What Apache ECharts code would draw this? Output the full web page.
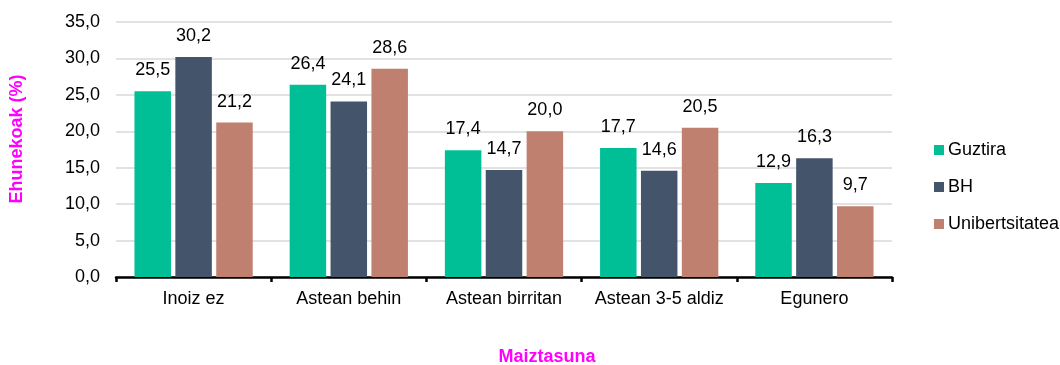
<!DOCTYPE html>
<html>
<head>
<meta charset="utf-8">
<script src="https://cdn.jsdelivr.net/npm/echarts@6/dist/echarts.min.js"></script>
<style>
  html, body { margin: 0; padding: 0; background: #fff; }
  #chart { width: 1060px; height: 365px; }
</style>
</head>
<body>
<div id="chart"></div>
<script>
// Frequency categories and percentages per group
const categories = ['Inoiz ez', 'Astean behin', 'Astean birritan', 'Astean 3-5 aldiz', 'Egunero'];
const guztira = [25.5, 26.4, 17.4, 17.7, 12.9];
const bh = [30.2, 24.1, 14.7, 14.6, 16.3];
const unibertsitatea = [21.2, 28.6, 20.0, 20.5, 9.7];
const seriesNames = ['Guztira', 'BH', 'Unibertsitatea'];
const colors = ['#00BF96', '#44546A', '#C0806F'];

const fmt = v => v.toFixed(1).replace('.', ',');
const font = 'Liberation Sans, Arial, sans-serif';
const fs = 18;

const chart = echarts.init(document.getElementById('chart'));

function barSeries(name, data, color) {
  return {
    name: name,
    type: 'bar',
    data: data,
    barWidth: 36.5,
    barGap: '12%',
    itemStyle: { color: color },
    label: {
      show: true,
      position: 'top',
      distance: 12,
      fontFamily: font,
      fontSize: fs,
      color: '#000',
      formatter: p => fmt(p.value)
    }
  };
}

chart.setOption({
  animation: false,
  color: colors,
  grid: { left: 116, right: 168, top: 22, bottom: 88, containLabel: false },
  legend: {
    orient: 'vertical',
    left: 929,
    top: 136,
    itemWidth: 10,
    itemHeight: 10,
    itemGap: 19,
    icon: 'rect',
    textStyle: { fontFamily: font, fontSize: fs, lineHeight: 18, color: '#000', padding: [0, 0, 0, -1] },
    data: seriesNames
  },
  xAxis: {
    type: 'category',
    data: categories,
    axisLine: { lineStyle: { color: '#000', width: 2.5 } },
    axisTick: { show: true, length: 5, lineStyle: { color: '#000', width: 2.5 } },
    axisLabel: { interval: 0, fontFamily: font, fontSize: fs, color: '#000', margin: 13 }
  },
  yAxis: {
    type: 'value',
    min: 0,
    max: 35,
    interval: 5,
    axisLine: { show: false },
    axisTick: { show: false },
    splitLine: { lineStyle: { color: '#D9D9D9', width: 1.5 } },
    axisLabel: { fontFamily: font, fontSize: fs, color: '#000', margin: 16, formatter: v => fmt(v) }
  },
  graphic: [
    {
      type: 'text',
      x: 17,
      y: 139,
      rotation: Math.PI / 2,
      style: {
        text: 'Ehunekoak (%)',
        fontFamily: font,
        fontSize: fs,
        fontWeight: 'bold',
        fill: '#FF00FF',
        align: 'center',
        verticalAlign: 'middle'
      }
    },
    {
      type: 'text',
      x: 547,
      y: 357,
      style: {
        text: 'Maiztasuna',
        fontFamily: font,
        fontSize: fs,
        fontWeight: 'bold',
        fill: '#FF00FF',
        align: 'center',
        verticalAlign: 'middle'
      }
    }
  ],
  series: [
    barSeries(seriesNames[0], guztira, colors[0]),
    barSeries(seriesNames[1], bh, colors[1]),
    barSeries(seriesNames[2], unibertsitatea, colors[2])
  ]
});
</script>
</body>
</html>
